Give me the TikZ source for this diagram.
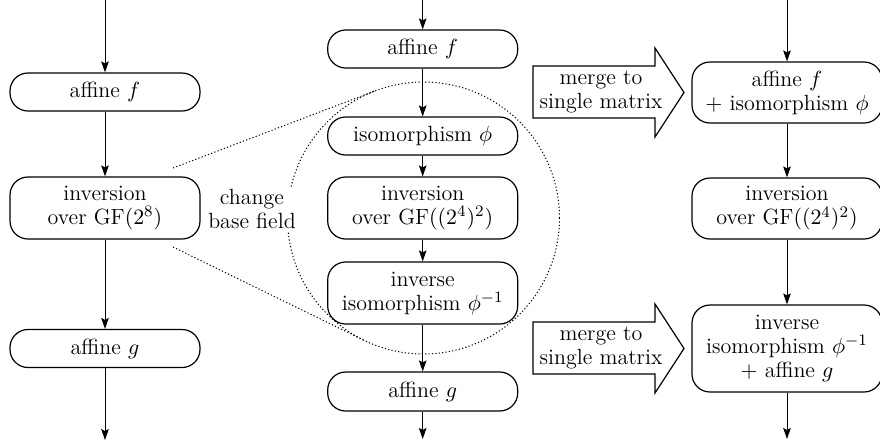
\documentclass[tikz,border=0pt]{standalone}
\usetikzlibrary{arrows.meta,calc}
\begin{document}
\begin{tikzpicture}[x=0.5pt,y=-0.5pt,
  every node/.style={font=\fontsize{11}{12}\selectfont},
  box/.style={draw,line width=0.6pt,rounded corners=9pt,minimum width=95pt,inner sep=0pt,align=center,fill=white},
  flow/.style={-{Stealth[length=5.5pt,width=3.8pt,inset=1pt]},line width=0.5pt},
  dots/.style={line width=0.5pt,dash pattern=on 0.6pt off 1.1pt},
  blockarrow/.style={draw,line width=0.6pt,fill=white}
]
\useasboundingbox (0,0) rectangle (880,446);

% ---------------- dotted circle and tangents
\node[circle,draw,dots,minimum size=136pt,inner sep=0pt,outer sep=0pt] (circ) at (423.5,218) {};
\coordinate (p1) at (173,168);
\coordinate (p2) at (173,247);
\draw[dots] (p1) -- (tangent cs:node=circ,point={(p1)},solution=2);
\draw[dots] (p2) -- (tangent cs:node=circ,point={(p2)},solution=1);
\node[fill=white,inner sep=1pt,align=center] (cbf) at (252,209) {change\\base field};

% ---------------- left column
\node[box,minimum height=19pt] (lf) at (105,92) {affine $f$};
\node[box,minimum height=31pt] (li) at (105,208) {inversion\\over GF$(2^8)$};
\node[box,minimum height=19pt] (lg) at (105,348.5) {affine $g$};
\coordinate (lt) at (105,0);
\coordinate (lb) at (105,440);
\draw[flow] (lt) -- (lf);
\draw[flow] (lf) -- (li);
\draw[flow] (li) -- (lg);
\draw[flow] (lg) -- (lb);

% ---------------- middle column
\node[box,minimum height=19pt] (mf) at (422.7,49) {affine $f$};
\node[box,minimum height=19pt] (mi) at (422.7,136) {isomorphism $\phi$};
\node[box,minimum height=31pt] (mv) at (422.7,208) {inversion\\over GF$((2^4)^2)$};
\node[box,minimum height=31pt] (mp) at (422.7,293) {inverse\\isomorphism $\phi^{-1}$};
\node[box,minimum height=19.5pt] (mg) at (422.7,391.5) {affine $g$};
\coordinate (mt) at (422.7,0);
\coordinate (mb) at (422.7,439);
\draw[flow] (mt) -- (mf);
\draw[flow] (mf) -- (mi);
\draw[flow] (mi) -- (mv);
\draw[flow] (mv) -- (mp);
\draw[flow] (mp) -- (mg);
\draw[flow] (mg) -- (mb);

% ---------------- right column
\node[box,minimum height=30.5pt] (rf) at (787,92.5) {affine $f$\\$+$ isomorphism $\phi$};
\node[box,minimum height=30.5pt] (ri) at (787,208.5) {inversion\\over GF$((2^4)^2)$};
\node[box,minimum height=43.5pt] (rp) at (787,348.5) {inverse\\isomorphism $\phi^{-1}$\\$+$ affine $g$};
\coordinate (rt) at (787,0);
\coordinate (rb) at (787,439);
\draw[flow] (rt) -- (rf);
\draw[flow] (rf) -- (ri);
\draw[flow] (ri) -- (rp);
\draw[flow] (rp) -- (rb);

% ---------------- block arrows
\draw[blockarrow] (533,66) -- (655,66) -- (655,48) -- (684,92.5) -- (655,137) -- (655,118) -- (533,118) -- cycle;
\node[align=center] (m1) at (601,92) {merge to\\single matrix};
\draw[blockarrow] (533,322) -- (655,322) -- (655,304) -- (684,348.5) -- (655,393) -- (655,374) -- (533,374) -- cycle;
\node[align=center] (m2) at (601,348) {merge to\\single matrix};
\end{tikzpicture}
\end{document}
